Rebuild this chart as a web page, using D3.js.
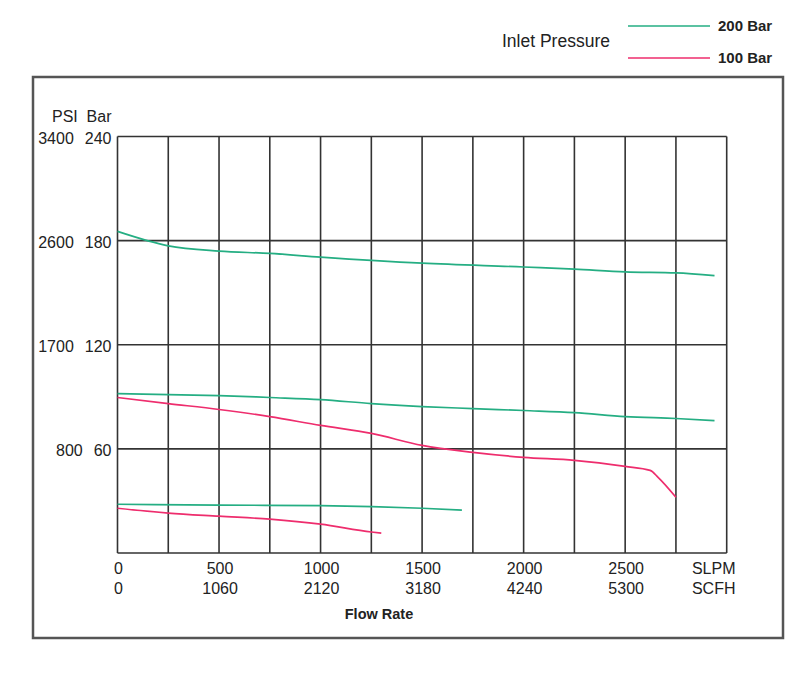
<!DOCTYPE html>
<html>
<head>
<meta charset="utf-8">
<script src="https://cdn.jsdelivr.net/npm/d3@7"></script>
<style>
  body { margin: 0; background: #fff; }
  text { font-family: "Liberation Sans", Arial, sans-serif; fill: #222; }
</style>
</head>
<body>
<div id="chart"></div>
<script>
// flow in SLPM, pressure in bar
const green200High = [[0, 185.3], [250, 177], [500, 174], [750, 172.6], [1000, 170.5], [1500, 167], [2000, 164.8], [2250, 163.6], [2500, 162], [2750, 161.4], [2940, 159.8]];
const green200Mid = [[0, 91.8], [250, 91.3], [500, 90.7], [750, 89.6], [1000, 88.4], [1250, 86.1], [1500, 84.4], [1750, 83.2], [2000, 82.1], [2250, 80.9], [2500, 78.6], [2750, 77.5], [2940, 76.3]];
const green200Low = [[0, 28.1], [500, 27.6], [1000, 27.3], [1500, 25.8], [1696, 24.7]];
const pink100Mid = [[0, 89.6], [250, 86.1], [500, 82.7], [750, 78.6], [1000, 73.5], [1250, 68.9], [1500, 62], [1750, 58], [2000, 55.1], [2250, 53.4], [2500, 49.9], [2623, 47.6], [2662, 43.6], [2750, 32.1]];
const pink100Low = [[0, 25.8], [250, 23], [500, 21.2], [750, 19.5], [1000, 16.6], [1250, 12.1], [1299, 11.5]];

const barTicks = [60, 120, 180, 240];
const psiLabels = ['800', '1700', '2600', '3400'];
const slpmTicks = [0, 500, 1000, 1500, 2000, 2500];
const scfhLabels = ['0', '1060', '2120', '3180', '4240', '5300'];
const legendItems = [{name: '200 Bar', color: '#25ae83'}, {name: '100 Bar', color: '#ee2d6d'}];

const width = 801;
const height = 693;
const margin = {top: 136.5, bottom: 140, left: 117.5, right: 74.3};

const svg = d3.select('#chart')
  .append('svg')
  .attr('width', width)
  .attr('height', height);

const x = d3.scaleLinear()
  .domain([0, 3000])
  .range([margin.left, width - margin.right]);

const y = d3.scaleLinear()
  .domain([0, 240])
  .range([height - margin.bottom, margin.top]);

// outer frame
svg.append('rect')
  .attr('x', 33).attr('y', 77)
  .attr('width', 750).attr('height', 561)
  .attr('fill', 'none')
  .attr('stroke', '#555')
  .attr('stroke-width', 2.5);

// grid
const grid = svg.append('g').attr('stroke', '#333').attr('stroke-width', 1.6);
grid.selectAll('line.v')
  .data(d3.range(0, 3001, 250))
  .join('line')
  .attr('class', 'v')
  .attr('x1', d => x(d)).attr('x2', d => x(d))
  .attr('y1', y(240)).attr('y2', y(0));
grid.selectAll('line.h')
  .data([0].concat(barTicks))
  .join('line')
  .attr('class', 'h')
  .attr('x1', x(0)).attr('x2', x(3000))
  .attr('y1', d => y(d)).attr('y2', d => y(d));

// y labels: bar right-aligned at the axis, psi just left of it
const yl = svg.append('g').attr('font-size', 16);
const barText = yl.selectAll('text.bar')
  .data(barTicks)
  .join('text')
  .attr('class', 'bar')
  .attr('x', x(0) - 6)
  .attr('y', d => y(d) + 7.5)
  .attr('text-anchor', 'end')
  .text(d => d);
barText.each(function(d, i) {
  const bx = this.getBBox().x;
  yl.append('text')
    .attr('x', bx - 11)
    .attr('y', y(d) + 7.5)
    .attr('text-anchor', 'end')
    .text(psiLabels[i]);
});
yl.append('text').attr('x', 52).attr('y', 122).text('PSI');
yl.append('text').attr('x', x(0) - 6).attr('y', 122).attr('text-anchor', 'end').text('Bar');

// x labels
const xl = svg.append('g').attr('font-size', 16).attr('text-anchor', 'middle');
xl.selectAll('text.slpm')
  .data(slpmTicks)
  .join('text')
  .attr('class', 'slpm')
  .attr('x', d => x(d) + 1)
  .attr('y', y(0) + 21)
  .text(d => d);
xl.selectAll('text.scfh')
  .data(slpmTicks)
  .join('text')
  .attr('class', 'scfh')
  .attr('x', d => x(d) + 1)
  .attr('y', y(0) + 41)
  .text((d, i) => scfhLabels[i]);
xl.append('text').attr('x', x(3000) - 13).attr('y', y(0) + 21).text('SLPM');
xl.append('text').attr('x', x(3000) - 13).attr('y', y(0) + 41).text('SCFH');
xl.append('text').attr('x', 379).attr('y', 619).attr('font-size', 14.5)
  .attr('font-weight', 'bold').attr('fill', '#333').text('Flow Rate');

// curves
const line = d3.line()
  .x(d => x(d[0]))
  .y(d => y(d[1]))
  .curve(d3.curveMonotoneX);

const curves = [
  {data: green200High, color: legendItems[0].color},
  {data: green200Mid, color: legendItems[0].color},
  {data: green200Low, color: legendItems[0].color},
  {data: pink100Mid, color: legendItems[1].color},
  {data: pink100Low, color: legendItems[1].color},
];
svg.append('g')
  .selectAll('path')
  .data(curves)
  .join('path')
  .attr('d', d => line(d.data))
  .attr('fill', 'none')
  .attr('stroke', d => d.color)
  .attr('stroke-width', 1.7);

// legend
svg.append('text').attr('x', 502).attr('y', 47).attr('font-size', 17.5).text('Inlet Pressure');
const lg = svg.append('g')
  .selectAll('g')
  .data(legendItems)
  .join('g')
  .attr('transform', (d, i) => `translate(0, ${i === 0 ? 26 : 58})`);
lg.append('line')
  .attr('x1', 628).attr('x2', 710)
  .attr('stroke', d => d.color).attr('stroke-width', 1.7);
lg.append('text')
  .attr('x', 718).attr('y', 5)
  .attr('font-size', 15).attr('font-weight', 'bold')
  .text(d => d.name);
</script>
</body>
</html>
